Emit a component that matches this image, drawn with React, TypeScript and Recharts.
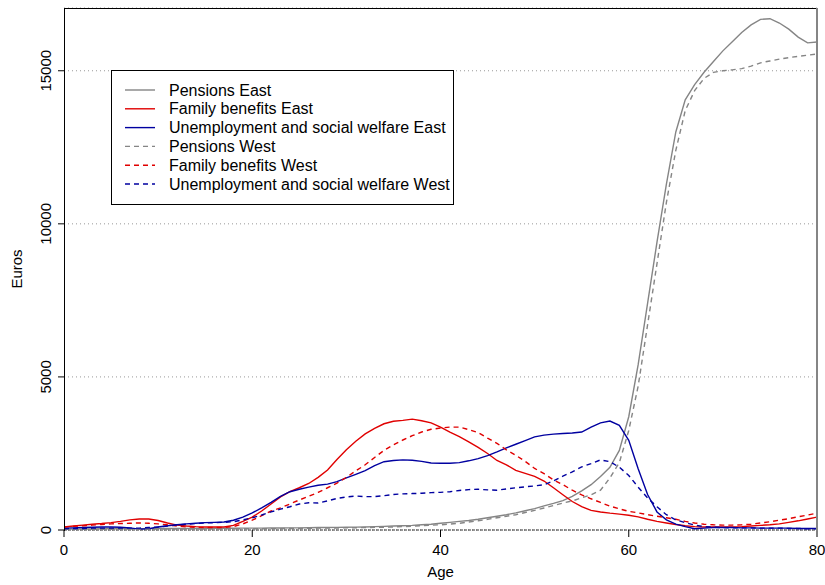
import React from 'react'
import { LineChart, Line, XAxis, YAxis, CartesianGrid, ReferenceLine } from 'recharts'

const ages = Array.from({ length: 81 }, (_, i) => i)

const pensionsEast = [
  30, 30, 35, 35, 40, 40, 40, 45, 45, 45, 50, 50, 50, 50, 50, 50, 55, 55, 55, 60,
  60, 60, 65, 65, 70, 70, 75, 80, 80, 85, 90, 95, 100, 110, 120, 130, 140, 150, 170, 190,
  220, 250, 280, 310, 350, 400, 450, 500, 560, 630, 700, 790, 870, 960, 1100, 1280, 1480, 1750, 2050, 2600,
  3700, 5400, 7400, 9400, 11300, 13000, 14050, 14550, 14950, 15300, 15650, 15950, 16250, 16500, 16680, 16700, 16560, 16360, 16100, 15910,
  15940,
]

const familyEast = [
  100, 130, 160, 190, 210, 240, 280, 330, 360, 360, 310, 230, 160, 130, 110, 100, 100, 100, 150, 280,
  420, 620, 850, 1080, 1250, 1380, 1520, 1720, 1960, 2300, 2620, 2900, 3140, 3320, 3470, 3550, 3580, 3620, 3570, 3500,
  3360, 3200, 3050, 2880, 2700, 2500, 2270, 2130, 1950, 1850, 1750, 1600, 1380, 1150, 930, 760, 640, 590, 550, 520,
  480, 430, 350, 280, 230, 180, 140, 110, 100, 100, 100, 100, 110, 130, 150, 170, 200, 250, 300, 360,
  420,
]

const unemploymentEast = [
  60, 70, 80, 90, 100, 100, 90, 70, 30, 40, 100, 140, 170, 200, 220, 240, 250, 260, 320, 420,
  560, 720, 900, 1100, 1250, 1330, 1400, 1460, 1500, 1580, 1700, 1820, 1940, 2100, 2230, 2270, 2290, 2280, 2240, 2190,
  2180, 2180, 2200, 2260, 2330, 2430, 2550, 2680, 2800, 2920, 3040, 3100, 3130, 3150, 3170, 3200, 3360, 3500, 3560, 3420,
  2930, 2000, 1160, 590, 330, 190, 110, 40, 60, 80, 80, 80, 70, 70, 60, 60, 60, 60, 50, 50,
  50,
]

const pensionsWest = [
  20, 20, 20, 25, 25, 25, 25, 30, 30, 30, 30, 30, 30, 35, 35, 35, 35, 35, 40, 40,
  40, 40, 45, 45, 50, 50, 55, 60, 60, 65, 70, 75, 80, 85, 90, 100, 110, 125, 140, 155,
  170, 195, 220, 260, 300, 350, 400, 450, 500, 570, 640, 720, 800, 880, 950, 1050, 1150, 1300, 1700, 2200,
  3250, 4700, 6700, 8700, 10700, 12400, 13700, 14350, 14750, 14950, 15000, 15030, 15070, 15150, 15260, 15320, 15380, 15430, 15470, 15510,
  15550,
]

const familyWest = [
  100, 120, 140, 160, 180, 200, 210, 220, 230, 220, 200, 170, 130, 100, 90, 80, 80, 80, 110, 200,
  320, 470, 620, 720, 850, 980, 1100, 1230, 1380, 1530, 1720, 1930, 2130, 2370, 2600, 2780, 2940, 3080, 3200, 3290,
  3330, 3360, 3360, 3280, 3180, 3000, 2830, 2620, 2440, 2240, 2010, 1840, 1640, 1480, 1300, 1150, 1020, 900, 780, 690,
  610, 560, 500, 450, 400, 350, 280, 230, 190, 170, 160, 160, 170, 190, 230, 270, 320, 370, 430, 490,
  550,
]

const unemploymentWest = [
  40, 50, 50, 60, 60, 60, 60, 60, 60, 80, 100, 130, 160, 190, 210, 230, 240, 250, 270, 330,
  400, 490, 590, 680, 760, 850, 890, 880, 950, 1030, 1080, 1110, 1090, 1090, 1120, 1160, 1180, 1190, 1200, 1220,
  1230, 1250, 1290, 1320, 1330, 1310, 1300, 1340, 1380, 1410, 1440, 1480, 1600, 1760, 1900, 2060, 2170, 2290, 2230, 2050,
  1780, 1400, 1050, 760, 500, 330, 240, 160, 110, 90, 80, 70, 70, 70, 60, 60, 60, 50, 50, 40,
  40,
]

const xTicks = [0, 20, 40, 60, 80]
const yTicks = [5000, 10000, 15000]

const GRAY = '#858585'
const RED = '#e00000'
const BLUE = '#0000a0'

const series = [
  { key: 'pe', name: 'Pensions East', values: pensionsEast, color: GRAY, dash: undefined },
  { key: 'fe', name: 'Family benefits East', values: familyEast, color: RED, dash: undefined },
  { key: 'ue', name: 'Unemployment and social welfare East', values: unemploymentEast, color: BLUE, dash: undefined },
  { key: 'pw', name: 'Pensions West', values: pensionsWest, color: GRAY, dash: '5 4' },
  { key: 'fw', name: 'Family benefits West', values: familyWest, color: RED, dash: '5 4' },
  { key: 'uw', name: 'Unemployment and social welfare West', values: unemploymentWest, color: BLUE, dash: '5 4' },
]

const data = ages.map((age, i) => {
  const row: Record<string, number> = { age }
  series.forEach((s) => {
    row[s.key] = s.values[i]
  })
  return row
})

const FONT = '"Liberation Sans", Arial, Helvetica, sans-serif'

const W = 825
const H = 585
const LEFT = 64
const TOP = 8
const RIGHT = 817
const BOTTOM = 530

function XTick({ x, y, payload }: any) {
  return (
    <text x={x} y={y} dy={16} textAnchor="middle" fontSize={15} fill="#000" fontFamily={FONT}>
      {payload.value}
    </text>
  )
}

function YTick({ x, y, payload }: any) {
  const tx = x - 5
  return (
    <text
      x={tx}
      y={y}
      textAnchor="middle"
      fontSize={15}
      fill="#000"
      fontFamily={FONT}
      transform={`rotate(-90, ${tx}, ${y})`}
    >
      {payload.value}
    </text>
  )
}

export default function App() {
  return (
    <div style={{ position: 'absolute', left: 0, top: 0, width: W, height: H, background: '#fff' }}>
      <LineChart width={W} height={H} data={data} margin={{ top: TOP, right: W - RIGHT, bottom: 0, left: 0 }}>
        <CartesianGrid horizontal vertical={false} stroke="#999" strokeDasharray="1 3" />
        <ReferenceLine y={0} stroke="#333" strokeDasharray="3 1" />
        <XAxis
          dataKey="age"
          type="number"
          domain={[0, 80]}
          ticks={xTicks}
          height={H - BOTTOM}
          tickSize={7}
          tick={<XTick />}
          axisLine={false}
          tickLine={{ stroke: '#000' }}
          allowDataOverflow
          label={{
            content: ({ viewBox }: any) => (
              <text
                x={viewBox.x + viewBox.width / 2}
                y={viewBox.y + 47}
                textAnchor="middle"
                fontSize={15}
                fontFamily={FONT}
                fill="#000"
              >
                Age
              </text>
            ),
          }}
        />
        <YAxis
          type="number"
          domain={[0, 17050]}
          ticks={[0, ...yTicks]}
          width={LEFT}
          tickSize={6}
          tick={<YTick />}
          axisLine={false}
          tickLine={{ stroke: '#000' }}
          allowDataOverflow
          label={{
            content: ({ viewBox }: any) => {
              const cx = 22
              const cy = viewBox.y + viewBox.height / 2
              return (
                <text
                  x={cx}
                  y={cy}
                  textAnchor="middle"
                  fontSize={15}
                  fontFamily={FONT}
                  fill="#000"
                  transform={`rotate(-90, ${cx}, ${cy})`}
                >
                  Euros
                </text>
              )
            },
          }}
        />
        {series.map((s) => (
          <Line
            key={s.key}
            dataKey={s.key}
            name={s.name}
            type="linear"
            stroke={s.color}
            strokeWidth={1.4}
            strokeDasharray={s.dash}
            dot={false}
            activeDot={false}
            isAnimationActive={false}
          />
        ))}
      </LineChart>
      <svg width={W} height={H} style={{ position: 'absolute', left: 0, top: 0, pointerEvents: 'none' }}>
        <line x1={LEFT + 0.5} y1={TOP} x2={LEFT + 0.5} y2={BOTTOM + 1} stroke="#000" strokeWidth={1} />
        <line x1={LEFT} y1={TOP + 0.5} x2={RIGHT} y2={TOP + 0.5} stroke="#000" strokeWidth={1} />
        <line x1={RIGHT} y1={TOP} x2={RIGHT} y2={BOTTOM + 1} stroke={GRAY} strokeWidth={2} />
        <rect x={111.5} y={70.5} width={342} height={134} fill="#fff" stroke="#000" strokeWidth={1} />
        {series.map((s, i) => {
          const y = 90 + i * 18.8
          return (
            <g key={s.key}>
              <line x1={125} y1={y} x2={155} y2={y} stroke={s.color} strokeWidth={1.4} strokeDasharray={s.dash} />
              <text x={169} y={y + 5.5} fontSize={16} fontFamily={FONT} fill="#000">
                {s.name}
              </text>
            </g>
          )
        })}
      </svg>
    </div>
  )
}
